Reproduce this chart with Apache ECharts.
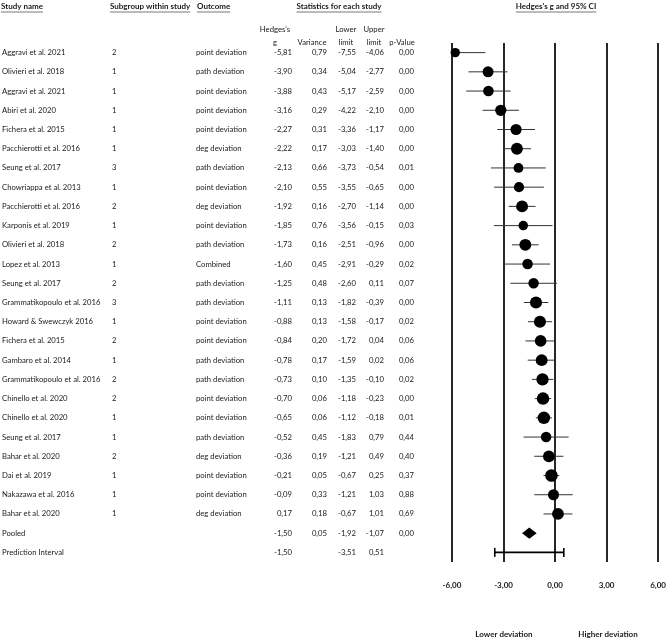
<!DOCTYPE html>
<html><head><meta charset="utf-8">
<script src="https://cdn.jsdelivr.net/npm/echarts@6/dist/echarts.min.js"></script>
<style>html,body{margin:0;padding:0;background:#fff}#c{width:669px;height:640px}</style>
</head><body><div id="c"></div>
<script>
// ---------- data ----------
const studyNames = ['Aggravi et al. 2021','Olivieri et al. 2018','Aggravi et al. 2021','Abiri et al. 2020','Fichera et al. 2015','Pacchierotti et al. 2016','Seung et al. 2017','Chowriappa et al. 2013','Pacchierotti et al. 2016','Karponis et al. 2019','Olivieri et al. 2018','Lopez et al. 2013','Seung et al. 2017','Grammatikopoulo et al. 2016','Howard & Swewczyk 2016','Fichera et al. 2015','Gambaro et al. 2014','Grammatikopoulo et al. 2016','Chinello et al. 2020','Chinello et al. 2020','Seung et al. 2017','Bahar et al. 2020','Dai et al. 2019','Nakazawa et al. 2016','Bahar et al. 2020'];
const subgroups = ['2','1','1','1','1','1','3','1','2','1','2','1','2','3','1','2','1','2','2','1','1','2','1','1','1'];
const outcomes = ['point deviation','path deviation','point deviation','point deviation','point deviation','deg deviation','path deviation','point deviation','deg deviation','point deviation','path deviation','Combined','path deviation','path deviation','point deviation','point deviation','path deviation','path deviation','point deviation','point deviation','path deviation','deg deviation','point deviation','point deviation','deg deviation'];
const hedgesG = [-5.81,-3.90,-3.88,-3.16,-2.27,-2.22,-2.13,-2.10,-1.92,-1.85,-1.73,-1.60,-1.25,-1.11,-0.88,-0.84,-0.78,-0.73,-0.70,-0.65,-0.52,-0.36,-0.21,-0.09,0.17];
const variances = [0.79,0.34,0.43,0.29,0.31,0.17,0.66,0.55,0.16,0.76,0.16,0.45,0.48,0.13,0.13,0.20,0.17,0.10,0.06,0.06,0.45,0.19,0.05,0.33,0.18];
const lowerLimits = [-7.55,-5.04,-5.17,-4.22,-3.36,-3.03,-3.73,-3.55,-2.70,-3.56,-2.51,-2.91,-2.60,-1.82,-1.58,-1.72,-1.59,-1.35,-1.18,-1.12,-1.83,-1.21,-0.67,-1.21,-0.67];
const upperLimits = [-4.06,-2.77,-2.59,-2.10,-1.17,-1.40,-0.54,-0.65,-1.14,-0.15,-0.96,-0.29,0.11,-0.39,-0.17,0.04,0.02,-0.10,-0.23,-0.18,0.79,0.49,0.25,1.03,1.01];
const pValues = [0.00,0.00,0.00,0.00,0.00,0.00,0.01,0.00,0.00,0.03,0.00,0.02,0.07,0.00,0.02,0.06,0.06,0.02,0.00,0.01,0.44,0.40,0.37,0.88,0.69];
// pooled: g, variance, lower, upper, p
const pooledStats = [-1.50, 0.05, -1.92, -1.07, 0.00];
// prediction interval: g, lower, upper
const predictionInterval = [-1.50, -3.51, 0.51];
const xTicks = [-6, -3, 0, 3, 6];
const tau2 = 0.89;

// ---------- helpers / layout ----------
const rowLabels = studyNames.concat(['Pooled', 'Prediction Interval']);
const nStudies = studyNames.length;
const FF = 'Lato, "Open Sans", sans-serif';
const FS = 7.7;
const FSH = 8;
const TXT = '#1a1a1a';
const fmt = v => v.toFixed(2).replace('.', ',');
const cols = { name: 2, sub: 112, out: 196, g: 292, v: 327, lo: 356, hi: 384, p: 414 };

const measure = (() => {
  const c = document.createElement('canvas').getContext('2d');
  return (t, f) => { c.font = f; return c.measureText(t).width; };
})();

const tableRows = rowLabels.map((_, i) => [i]);

const graphics = [];
function header(text, x, y, align, bold, underline) {
  const font = (bold ? 'bold ' + FSH : FS) + 'px ' + FF;
  graphics.push({ type: 'text', x: x, y: y, z: 10, style: { text: text, font: font, fill: TXT, align: align, verticalAlign: 'middle' } });
  if (underline) {
    const w = measure(text, font);
    const x0 = align === 'center' ? x - w / 2 : (align === 'right' ? x - w : x);
    graphics.push({ type: 'line', z: 10, shape: { x1: x0, y1: y + 6, x2: x0 + w, y2: y + 6 }, style: { stroke: '#555', lineWidth: 0.8 } });
  }
}
header('Study name', 1, 6, 'left', true, true);
header('Subgroup within study', 110, 6, 'left', true, true);
header('Outcome', 197, 6, 'left', true, true);
header('Statistics for each study', 339, 6, 'center', true, true);
header("Hedges's g and 95% CI", 556, 6, 'center', true, true);
header("Hedges's", 275, 30, 'center');
header('g', 275, 43, 'center');
header('Variance', 312, 43, 'center');
header('Lower', 346, 30, 'center');
header('limit', 346, 43, 'center');
header('Upper', 374, 30, 'center');
header('limit', 374, 43, 'center');
header('p-Value', 402, 43, 'center');
header('Lower deviation', 504, 634, 'center', true);
header('Higher deviation', 608, 634, 'center', true);

const chart = echarts.init(document.getElementById('c'), null, { renderer: 'canvas' });

function txt(text, x, y, align) {
  return { type: 'text', style: { text: text, x: x, y: y, align: align, verticalAlign: 'middle', font: FS + 'px ' + FF, fill: TXT } };
}

const option = {
  animation: false,
  backgroundColor: '#fff',
  grid: [
    { left: 452, width: 209, top: 43, height: 519 },
    { left: 0, width: 440, top: 43, height: 519 }
  ],
  xAxis: [
    { type: 'value', gridIndex: 0, min: -6, max: 6, interval: 3,
      axisLine: { show: false }, axisTick: { show: false },
      splitLine: { show: true, showMinLine: true, showMaxLine: true, lineStyle: { color: '#000', width: 1.7 } },
      axisLabel: { margin: 19, formatter: v => fmt(v), fontFamily: FF, fontSize: FSH, fontWeight: 'bold', color: TXT } },
    { type: 'value', gridIndex: 1, min: 0, max: 440, show: false }
  ],
  yAxis: [
    { type: 'category', gridIndex: 0, data: rowLabels, inverse: true, show: false },
    { type: 'category', gridIndex: 1, data: rowLabels, inverse: true, show: false }
  ],
  graphic: graphics,
  series: [
    { // table text
      type: 'custom', xAxisIndex: 1, yAxisIndex: 1, clip: false, silent: true,
      data: tableRows,
      encode: { y: 0 },
      renderItem: (params, api) => {
        const i = api.value(0);
        const y = api.coord([0, i])[1];
        const X = k => api.coord([cols[k], i])[0];
        const ch = [txt(rowLabels[i], X('name'), y, 'left')];
        if (i < nStudies) {
          ch.push(txt(subgroups[i], X('sub'), y, 'left'));
          ch.push(txt(outcomes[i], X('out'), y, 'left'));
          ch.push(txt(fmt(hedgesG[i]), X('g'), y, 'right'));
          ch.push(txt(fmt(variances[i]), X('v'), y, 'right'));
          ch.push(txt(fmt(lowerLimits[i]), X('lo'), y, 'right'));
          ch.push(txt(fmt(upperLimits[i]), X('hi'), y, 'right'));
          ch.push(txt(fmt(pValues[i]), X('p'), y, 'right'));
        } else if (i === nStudies) {
          ch.push(txt(fmt(pooledStats[0]), X('g'), y, 'right'));
          ch.push(txt(fmt(pooledStats[1]), X('v'), y, 'right'));
          ch.push(txt(fmt(pooledStats[2]), X('lo'), y, 'right'));
          ch.push(txt(fmt(pooledStats[3]), X('hi'), y, 'right'));
          ch.push(txt(fmt(pooledStats[4]), X('p'), y, 'right'));
        } else {
          ch.push(txt(fmt(predictionInterval[0]), X('g'), y, 'right'));
          ch.push(txt(fmt(predictionInterval[1]), X('lo'), y, 'right'));
          ch.push(txt(fmt(predictionInterval[2]), X('hi'), y, 'right'));
        }
        return { type: 'group', children: ch };
      }
    },
    { // confidence intervals
      type: 'custom', xAxisIndex: 0, yAxisIndex: 0, clip: true, silent: true,
      data: hedgesG.map((g, i) => [i, lowerLimits[i], upperLimits[i]]),
      encode: { y: 0, x: [1, 2] },
      renderItem: (params, api) => {
        const i = api.value(0);
        const a = api.coord([api.value(1), i]);
        const b = api.coord([api.value(2), i]);
        return { type: 'line', shape: { x1: a[0], y1: a[1], x2: b[0], y2: b[1] }, style: { stroke: '#333', lineWidth: 1 } };
      }
    },
    { // effect sizes
      type: 'scatter', xAxisIndex: 0, yAxisIndex: 0, clip: false, silent: true,
      data: hedgesG.map((g, i) => [g, i, variances[i]]),
      symbol: 'circle',
      symbolSize: v => 12.2 * Math.sqrt(1 / (v[2] + tau2)),
      itemStyle: { color: '#000', opacity: 1 }, z: 5
    },
    { // pooled diamond
      type: 'custom', xAxisIndex: 0, yAxisIndex: 0, clip: false, silent: true,
      data: [[nStudies, pooledStats[0], pooledStats[2], pooledStats[3]]],
      encode: { y: 0, x: [1, 2, 3] },
      renderItem: (params, api) => {
        const i = api.value(0);
        const c = api.coord([api.value(1), i]);
        const l = api.coord([api.value(2), i]);
        const r = api.coord([api.value(3), i]);
        const h = api.size([0, 1])[1] * 0.29;
        return { type: 'polygon', shape: { points: [[l[0], c[1]], [c[0], c[1] - h], [r[0], c[1]], [c[0], c[1] + h]] }, style: { fill: '#000' } };
      }
    },
    { // prediction interval
      type: 'custom', xAxisIndex: 0, yAxisIndex: 0, clip: false, silent: true,
      data: [[nStudies + 1, predictionInterval[1], predictionInterval[2]]],
      encode: { y: 0, x: [1, 2] },
      renderItem: (params, api) => {
        const i = api.value(0);
        const l = api.coord([api.value(1), i]);
        const r = api.coord([api.value(2), i]);
        const h = 4.5;
        const st = { stroke: '#000', lineWidth: 1.6 };
        return { type: 'group', children: [
          { type: 'line', shape: { x1: l[0], y1: l[1], x2: r[0], y2: r[1] }, style: st },
          { type: 'line', shape: { x1: l[0], y1: l[1] - h, x2: l[0], y2: l[1] + h }, style: st },
          { type: 'line', shape: { x1: r[0], y1: r[1] - h, x2: r[0], y2: r[1] + h }, style: st }
        ] };
      }
    }
  ]
};
chart.setOption(option);
</script>
</body></html>
